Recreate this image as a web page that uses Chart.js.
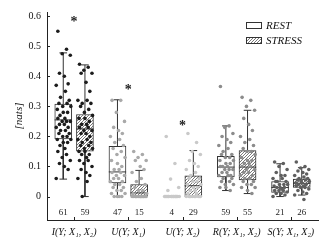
<!DOCTYPE html>
<html>
<head>
<meta charset="utf-8">
<script src="https://cdn.jsdelivr.net/npm/chart.js@4.4.0/dist/chart.umd.min.js"></script>
<style>
  html, body { margin: 0; padding: 0; background: #fff; }
  #wrap { width: 329px; height: 241px; }
</style>
</head>
<body>
<div id="wrap"><canvas id="boxChart"></canvas></div>
<script>
// categorias e contagens
const groups = ["I(Y; X\u2081, X\u2082)", "U(Y; X\u2081)", "U(Y; X\u2082)", "R(Y; X\u2081, X\u2082)", "S(Y; X\u2081, X\u2082)"];
const restCounts = [61, 47, 4, 59, 21];
const stressCounts = [59, 15, 29, 55, 26];
const starY = [0.585, 0.36, 0.24, null, null];
const yTicks = [0, 0.1, 0.2, 0.3, 0.4, 0.5, 0.6];

// estatisticas das caixas
const restLo = [0.058, 0, 0, 0.02, 0];
const restQ1 = [0.192, 0.045, 0, 0.065, 0.014];
const restMed = [0.255, 0.082, 0, 0.098, 0.03];
const restQ3 = [0.308, 0.167, 0, 0.134, 0.05];
const restHi = [0.478, 0.322, 0, 0.235, 0.109];
const stressLo = [0, 0, 0, 0.01, 0.005];
const stressQ1 = [0.151, 0.003, 0, 0.055, 0.03];
const stressMed = [0.225, 0.012, 0.036, 0.098, 0.044];
const stressQ3 = [0.273, 0.04, 0.069, 0.153, 0.058];
const stressHi = [0.438, 0.087, 0.153, 0.287, 0.096];

// pontos individuais
const iRest = [0.55, 0.49, 0.475, 0.47, 0.41, 0.40, 0.375, 0.37, 0.35, 0.33, 0.32, 0.31, 0.31, 0.30, 0.30, 0.29, 0.28, 0.28, 0.27, 0.26, 0.26, 0.25, 0.25, 0.25, 0.24, 0.24, 0.23, 0.23, 0.22, 0.22, 0.21, 0.21, 0.20, 0.20, 0.19, 0.19, 0.18, 0.18, 0.17, 0.16, 0.15, 0.14, 0.13, 0.12, 0.11, 0.10, 0.09, 0.06];
const iStress = [0.44, 0.43, 0.42, 0.41, 0.41, 0.38, 0.35, 0.32, 0.32, 0.31, 0.31, 0.30, 0.29, 0.28, 0.27, 0.26, 0.26, 0.25, 0.24, 0.24, 0.23, 0.23, 0.22, 0.22, 0.21, 0.21, 0.20, 0.19, 0.19, 0.18, 0.18, 0.17, 0.17, 0.16, 0.16, 0.15, 0.15, 0.14, 0.14, 0.13, 0.12, 0.12, 0.11, 0.10, 0.09, 0.08, 0.07, 0.06, 0.05, 0.0];
const u1Rest = [0.32, 0.32, 0.28, 0.25, 0.23, 0.22, 0.21, 0.20, 0.19, 0.18, 0.17, 0.16, 0.15, 0.14, 0.13, 0.12, 0.11, 0.10, 0.09, 0.09, 0.08, 0.08, 0.07, 0.07, 0.06, 0.06, 0.05, 0.05, 0.04, 0.04, 0.03, 0.03, 0.02, 0.02, 0.01, 0.01, 0.0, 0.0, 0.0, 0.0];
const u1Stress = [0.15, 0.14, 0.13, 0.12, 0.12, 0.10, 0.09, 0.08, 0.06, 0.05, 0.04, 0.03, 0.02, 0.02, 0.01, 0.01, 0, 0, 0, 0, 0, 0, 0, 0, 0, 0, 0, 0, 0, 0, 0];
const u2Rest = [0.20, 0.11, 0.058, 0.03, 0.02, 0, 0, 0, 0, 0, 0, 0, 0, 0, 0, 0, 0, 0, 0, 0, 0, 0];
const u2Stress = [0.21, 0.18, 0.15, 0.14, 0.12, 0.11, 0.10, 0.09, 0.08, 0.07, 0.06, 0.06, 0.05, 0.05, 0.04, 0.04, 0.03, 0.03, 0.02, 0.02, 0.01, 0.01, 0, 0, 0, 0, 0, 0, 0, 0, 0, 0];
const rRest = [0.366, 0.235, 0.23, 0.21, 0.20, 0.19, 0.18, 0.17, 0.16, 0.15, 0.14, 0.14, 0.13, 0.13, 0.12, 0.12, 0.11, 0.11, 0.10, 0.10, 0.10, 0.09, 0.09, 0.09, 0.08, 0.08, 0.07, 0.07, 0.07, 0.06, 0.06, 0.05, 0.05, 0.04, 0.04, 0.03, 0.03, 0.02];
const rStress = [0.33, 0.32, 0.30, 0.287, 0.26, 0.24, 0.22, 0.20, 0.19, 0.18, 0.17, 0.16, 0.15, 0.15, 0.14, 0.13, 0.12, 0.12, 0.11, 0.11, 0.10, 0.10, 0.09, 0.09, 0.08, 0.08, 0.07, 0.07, 0.06, 0.06, 0.05, 0.05, 0.04, 0.04, 0.03, 0.03, 0.02, 0.01];
const sRest = [0.115, 0.11, 0.10, 0.09, 0.08, 0.07, 0.07, 0.06, 0.06, 0.05, 0.05, 0.05, 0.04, 0.04, 0.04, 0.035, 0.03, 0.03, 0.03, 0.025, 0.02, 0.02, 0.02, 0.015, 0.01, 0.01, 0.005, 0.0];
const sStress = [0.115, 0.10, 0.095, 0.09, 0.085, 0.08, 0.075, 0.07, 0.065, 0.06, 0.06, 0.055, 0.055, 0.05, 0.05, 0.045, 0.045, 0.04, 0.04, 0.035, 0.035, 0.03, 0.03, 0.025, 0.02, 0.015, 0.01, 0.005, -0.01];

const restPts = [iRest, u1Rest, u2Rest, rRest, sRest];
const stressPts = [iStress, u1Stress, u2Stress, rStress, sStress];

// layout / estilo
const OFF = 0.2;
const BOX_HALF = 0.16;
const CAP_HALF = 0.07;
const COUNT_Y = -0.055;
const jitter = [-0.1, 0.06, -0.02, 0.13, -0.07, 0.02, 0.09, -0.13, 0.04, -0.05, 0.11, -0.08, 0.07, -0.01, 0.14, -0.11, 0.0, 0.08, -0.06, 0.03];
const dotColors = ["#1c1c1c", "#a9a9a9", "#c9c9c9", "#8c8c8c", "#5f5f5f"];
const edge = "#333333";
const SERIF = '"Liberation Serif", "DejaVu Serif", serif';

// textura hachurada
function makeHatch() {
  const tile = document.createElement("canvas");
  tile.width = 3; tile.height = 3;
  const t = tile.getContext("2d");
  t.fillStyle = "#ffffff";
  t.fillRect(0, 0, 3, 3);
  t.strokeStyle = "#7a7a7a";
  t.lineWidth = 1;
  t.beginPath();
  t.moveTo(0, 3); t.lineTo(3, 0);
  t.moveTo(-1, 1); t.lineTo(1, -1);
  t.moveTo(2, 4); t.lineTo(4, 2);
  t.stroke();
  return t.createPattern(tile, "repeat");
}
const hatch = makeHatch();

function boxBars(q1, q3, side) {
  return groups.map((g, i) => ({ x: i + side * OFF, y: [q1[i], q3[i]] }));
}

function boxLines(lo, q1, med, q3, hi, side) {
  const pts = [];
  groups.forEach((g, i) => {
    const c = i + side * OFF;
    const gap = { x: c, y: null };
    pts.push({ x: c, y: q3[i] }, { x: c, y: hi[i] }, gap);
    pts.push({ x: c - CAP_HALF, y: hi[i] }, { x: c + CAP_HALF, y: hi[i] }, gap);
    pts.push({ x: c, y: q1[i] }, { x: c, y: lo[i] }, gap);
    pts.push({ x: c - CAP_HALF, y: lo[i] }, { x: c + CAP_HALF, y: lo[i] }, gap);
    pts.push({ x: c - BOX_HALF, y: med[i] }, { x: c + BOX_HALF, y: med[i] }, gap);
  });
  return pts;
}

function jittered(vals, c) {
  return vals.map((v, i) => ({ x: c + jitter[i % jitter.length], y: v }));
}

const datasets = [];
groups.forEach((g, i) => {
  datasets.push({
    type: "scatter", label: "rest-pts-" + i, data: jittered(restPts[i], i - OFF),
    pointRadius: 1.8, pointBorderWidth: 0, pointBackgroundColor: dotColors[i], order: 0,
  });
  datasets.push({
    type: "scatter", label: "stress-pts-" + i, data: jittered(stressPts[i], i + OFF),
    pointRadius: 1.8, pointBorderWidth: 0, pointBackgroundColor: dotColors[i], order: 0,
  });
});
datasets.push({
  type: "scatter", label: "whiskers",
  data: boxLines(restLo, restQ1, restMed, restQ3, restHi, -1).concat(boxLines(stressLo, stressQ1, stressMed, stressQ3, stressHi, 1)),
  showLine: true, spanGaps: false, pointRadius: 0, borderColor: edge, borderWidth: 1, order: 1,
});
datasets.push({
  type: "bar", label: "REST", data: boxBars(restQ1, restQ3, -1),
  backgroundColor: "#ffffff", borderColor: edge, borderWidth: 1, borderSkipped: false,
  barThickness: 17, grouped: false, order: 2,
});
datasets.push({
  type: "bar", label: "STRESS", data: boxBars(stressQ1, stressQ3, 1),
  backgroundColor: hatch, borderColor: edge, borderWidth: 1, borderSkipped: false,
  barThickness: 17, grouped: false, order: 2,
});

// ticks internos, contagens, asteriscos e legenda
const extras = {
  id: "extras",
  afterDatasetsDraw(chart) {
    const { ctx, chartArea } = chart;
    const x = chart.scales.x, y = chart.scales.y;
    ctx.save();
    ctx.strokeStyle = "#222";
    ctx.lineWidth = 1;
    ctx.beginPath();
    yTicks.forEach((v) => {
      const py = Math.round(y.getPixelForValue(v)) + 0.5;
      ctx.moveTo(chartArea.left, py);
      ctx.lineTo(chartArea.left + 3, py);
    });
    groups.forEach((g, i) => {
      const px = Math.round(x.getPixelForValue(i)) + 0.5;
      ctx.moveTo(px, chartArea.bottom);
      ctx.lineTo(px, chartArea.bottom - 3);
    });
    ctx.stroke();

    ctx.fillStyle = "#222";
    ctx.textAlign = "center";
    ctx.textBaseline = "middle";
    ctx.font = "9px " + SERIF;
    groups.forEach((g, i) => {
      ctx.fillText(String(restCounts[i]), x.getPixelForValue(i - OFF), y.getPixelForValue(COUNT_Y));
      ctx.fillText(String(stressCounts[i]), x.getPixelForValue(i + OFF), y.getPixelForValue(COUNT_Y));
    });
    ctx.font = "bold 14px " + SERIF;
    starY.forEach((v, i) => {
      if (v === null) return;
      ctx.fillText("*", x.getPixelForValue(i), y.getPixelForValue(v) + 2);
    });

    // legenda
    const lx = chartArea.right - 72;
    const items = [["REST", "#ffffff"], ["STRESS", hatch]];
    ctx.font = "italic 11px " + SERIF;
    ctx.textAlign = "left";
    items.forEach(([name, fill], k) => {
      const ty = chartArea.top + 10 + k * 15;
      ctx.fillStyle = fill;
      ctx.fillRect(lx, ty, 16, 7);
      ctx.strokeStyle = edge;
      ctx.strokeRect(lx + 0.5, ty + 0.5, 15, 6);
      ctx.fillStyle = "#111";
      ctx.fillText(name, lx + 20, ty + 4);
    });
    ctx.restore();
  },
};

const ctx = document.getElementById("boxChart").getContext("2d");
const chart = new Chart(ctx, {
  type: "scatter",
  data: { datasets },
  options: {
    responsive: true,
    maintainAspectRatio: false,
    animation: false,
    layout: { padding: { top: 8, right: 11, left: 0, bottom: 0 } },
    plugins: { legend: { display: false }, tooltip: { enabled: false } },
    scales: {
      x: {
        type: "linear", min: -0.5, max: 4.5, offset: false,
        grid: { display: false, drawTicks: false },
        border: { display: true, color: "#222", width: 1 },
        afterBuildTicks: (s) => { s.ticks = groups.map((g, i) => ({ value: i })); },
        afterFit: (s) => { s.height = 21; },
        ticks: {
          padding: 6, maxRotation: 0, autoSkip: false, color: "#111",
          font: { family: SERIF, size: 10, style: "italic" },
          callback: (v) => groups[v],
        },
      },
      y: {
        min: -0.078, max: 0.614,
        grid: { display: false, drawTicks: false },
        border: { display: true, color: "#222", width: 1 },
        afterBuildTicks: (s) => { s.ticks = yTicks.map((v) => ({ value: v })); },
        afterFit: (s) => { s.width = 47; },
        ticks: {
          padding: 6, color: "#111",
          font: { family: SERIF, size: 10 },
          callback: (v) => (v === 0 ? "0" : v.toFixed(1)),
        },
        title: {
          display: true, text: "[nats]", color: "#111",
          padding: { top: 13, bottom: 0 },
          font: { family: SERIF, size: 11, style: "italic" },
        },
      },
    },
  },
  plugins: [extras],
});
</script>
</body>
</html>
